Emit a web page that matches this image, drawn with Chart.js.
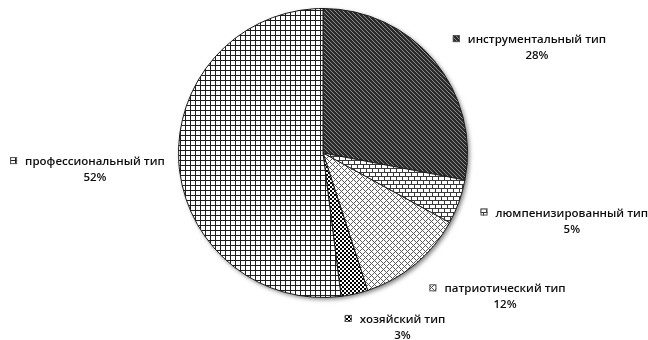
<!DOCTYPE html>
<html>
<head>
<meta charset="utf-8">
<script src="https://cdn.jsdelivr.net/npm/chart.js@4/dist/chart.umd.min.js"></script>
<style>
  html, body { margin: 0; padding: 0; background: #fff; }
  #wrap { width: 648px; height: 340px; }
</style>
</head>
<body>
<div id="wrap"><canvas id="c" width="648" height="340"></canvas></div>
<script>
// Типы (категории) и их доли, %
const categories = [
  'инструментальный тип',
  'люмпенизированный тип',
  'патриотический тип',
  'хозяйский тип',
  'профессиональный тип'
];
const shares = [28, 5, 12, 3, 52];

// Fill patterns, one per slice (drawn on small tiles)
function tile(w, h, draw) {
  const c = document.createElement('canvas');
  c.width = w; c.height = h;
  const g = c.getContext('2d');
  draw(g);
  return document.getElementById('c').getContext('2d').createPattern(c, 'repeat');
}
function px(g, pts, color) {
  g.fillStyle = color;
  pts.forEach(([x, y]) => g.fillRect(x, y, 1, 1));
}
const patterns = [
  // dark downward diagonal
  tile(4, 4, g => {
    g.fillStyle = '#2a2a2a'; g.fillRect(0, 0, 4, 4);
    px(g, [[0,0],[1,1],[2,2],[3,3]], '#8c8c8c');
  }),
  // horizontal brick
  tile(6, 8, g => {
    g.fillStyle = '#fff'; g.fillRect(0, 0, 6, 8);
    g.fillStyle = '#3a3a3a';
    g.fillRect(0, 0, 6, 1); g.fillRect(0, 4, 6, 1);
    g.fillRect(0, 0, 1, 4); g.fillRect(3, 4, 1, 4);
  }),
  // weave
  tile(6, 6, g => {
    g.fillStyle = '#fff'; g.fillRect(0, 0, 6, 6);
    px(g, [[0,0],[1,1],[2,2],[3,1],[4,0],[3,3],[4,4],[5,5],[0,4],[1,3]], '#5a5a5a');
  }),
  // checkerboard
  tile(4, 4, g => {
    g.fillStyle = '#fff'; g.fillRect(0, 0, 4, 4);
    g.fillStyle = '#000';
    g.fillRect(0, 0, 2, 2); g.fillRect(2, 2, 2, 2);
  }),
  // small grid
  tile(5, 5, g => {
    g.fillStyle = '#fff'; g.fillRect(0, 0, 5, 5);
    g.fillStyle = '#1e1e1e';
    g.fillRect(0, 0, 5, 1); g.fillRect(0, 0, 1, 5);
  })
];

// Label placement: gap beyond the rim and per-label nudges (px)
const labelGap = 24;
const labelNudge = [[0, 1], [-1, 10], [-1, 13], [-15, 9], [10, 5]];
const FONT = '600 11.5px "Open Sans", "DejaVu Sans", sans-serif';

const pieShadow = {
  id: 'pieShadow',
  beforeDatasetsDraw(chart) {
    const arc = chart.getDatasetMeta(0).data[0];
    if (!arc) return;
    const { x, y, outerRadius } = arc.getProps(['x', 'y', 'outerRadius'], true);
    const ctx = chart.ctx;
    ctx.save();
    ctx.shadowColor = 'rgba(0,0,0,0.5)';
    ctx.shadowBlur = 4;
    ctx.shadowOffsetX = 2;
    ctx.shadowOffsetY = 2;
    ctx.fillStyle = '#fff';
    ctx.beginPath();
    ctx.arc(x, y, outerRadius, 0, Math.PI * 2);
    ctx.fill();
    ctx.restore();
  }
};

const outsideLabels = {
  id: 'outsideLabels',
  afterDatasetsDraw(chart) {
    const ctx = chart.ctx;
    const meta = chart.getDatasetMeta(0);
    const data = chart.data.datasets[0].data;
    const total = data.reduce((a, b) => a + b, 0);
    ctx.save();
    ctx.font = FONT;
    ctx.textBaseline = 'alphabetic';
    meta.data.forEach((arc, i) => {
      const p = arc.getProps(['x', 'y', 'startAngle', 'endAngle', 'outerRadius'], true);
      const mid = (p.startAngle + p.endAngle) / 2;
      const dx = Math.cos(mid), dy = Math.sin(mid);
      const ax = p.x + dx * (p.outerRadius + labelGap);
      const ay = p.y + dy * (p.outerRadius + labelGap);
      const name = chart.data.labels[i];
      const tw = ctx.measureText(name).width;
      const mW = 7, mGap = 8;
      const bw = mW + mGap + tw;
      let left = dx >= 0 ? ax : ax - bw;
      let cy = ay;
      left += labelNudge[i][0];
      cy += labelNudge[i][1];
      const bl1 = cy - 3.5, bl2 = cy + 12.5;
      // legend key
      ctx.fillStyle = patterns[i];
      ctx.fillRect(left, bl1 - 8, mW, mW);
      ctx.strokeStyle = '#555';
      ctx.lineWidth = 1;
      ctx.strokeRect(left + 0.5, bl1 - 7.5, mW - 1, mW - 1);
      // text
      ctx.fillStyle = '#0d0d0d';
      const tx = left + mW + mGap;
      ctx.textAlign = 'left';
      ctx.fillText(name, tx, bl1);
      ctx.textAlign = 'center';
      ctx.fillText(Math.round(data[i] / total * 100) + '%', tx + tw / 2, bl2);
    });
    ctx.restore();
  }
};

new Chart(document.getElementById('c'), {
  type: 'pie',
  data: {
    labels: categories,
    datasets: [{
      data: shares,
      backgroundColor: patterns,
      borderColor: '#1a1a1a',
      borderWidth: 1
    }]
  },
  options: {
    responsive: false,
    animation: false,
    layout: { padding: { top: 8, bottom: 42, left: 0, right: 2 } },
    plugins: {
      legend: { display: false },
      tooltip: { enabled: false }
    }
  },
  plugins: [pieShadow, outsideLabels]
});
</script>
</body>
</html>
